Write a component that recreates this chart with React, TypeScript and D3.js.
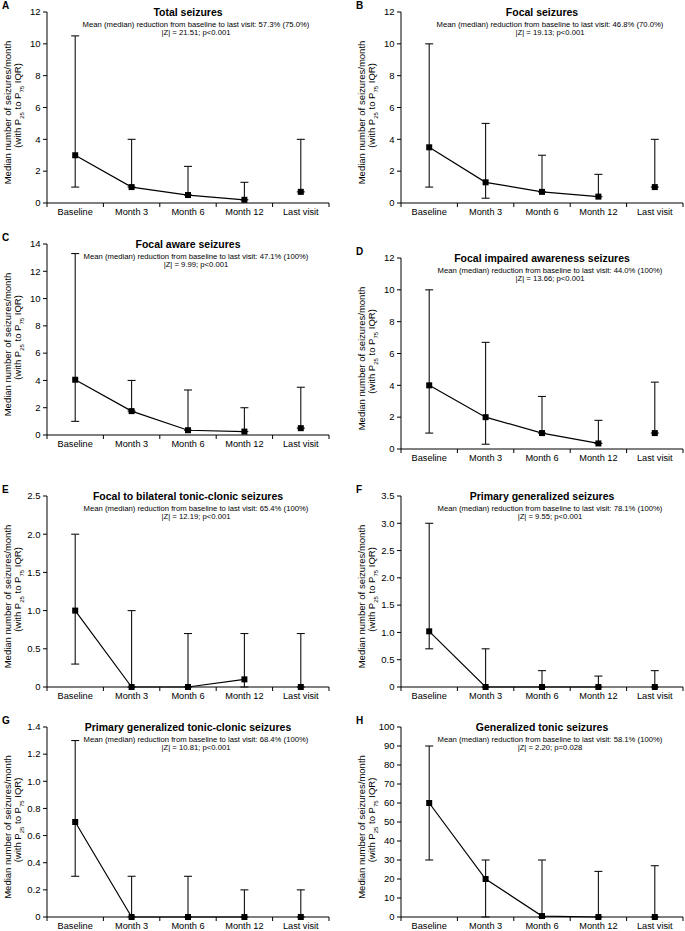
import React from 'react';
import * as d3 from 'd3';

const visits = ['Baseline', 'Month 3', 'Month 6', 'Month 12', 'Last visit'];
const letters = ['A', 'B', 'C', 'D', 'E', 'F', 'G', 'H'];
const titles = [
  'Total seizures',
  'Focal seizures',
  'Focal aware seizures',
  'Focal impaired awareness seizures',
  'Focal to bilateral tonic-clonic seizures',
  'Primary generalized seizures',
  'Primary generalized tonic-clonic seizures',
  'Generalized tonic seizures',
];
const reductions = ['57.3% (75.0%)', '46.8% (70.0%)', '47.1% (100%)', '44.0% (100%)', '65.4% (100%)', '78.1% (100%)', '68.4% (100%)', '58.1% (100%)'];
const stats = [
  '|Z| = 21.51; p<0.001',
  '|Z| = 19.13; p<0.001',
  '|Z| = 9.99; p<0.001',
  '|Z| = 13.66; p<0.001',
  '|Z| = 12.19; p<0.001',
  '|Z| = 9.55; p<0.001',
  '|Z| = 10.81; p<0.001',
  '|Z| = 2.20; p=0.028',
];
const yMax = [12, 12, 14, 12, 2.5, 3.5, 1.4, 100];
const yStep = [2, 2, 2, 2, 0.5, 0.5, 0.2, 10];

// median, P25, P75 per visit
const medians = [
  [3, 1, 0.5, 0.2, 0.7],
  [3.5, 1.3, 0.7, 0.4, 1],
  [4.05, 1.75, 0.35, 0.25, 0.5],
  [4, 2, 1, 0.35, 1],
  [1, 0, 0, 0.1, 0],
  [1.02, 0, 0, 0, 0],
  [0.7, 0, 0, 0, 0],
  [60, 20, 0.5, 0, 0],
];
const p25 = [
  [1, 1, 0.5, 0.2, 0.7],
  [1, 0.3, 0.7, 0.4, 1],
  [1, 1.75, 0.35, 0.25, 0.5],
  [1, 0.3, 1, 0.35, 1],
  [0.3, 0, 0, 0, 0],
  [0.7, 0, 0, 0, 0],
  [0.3, 0, 0, 0, 0],
  [30, 0, 0, 0, 0],
];
const p75 = [
  [10.5, 4, 2.3, 1.3, 4],
  [10, 5, 3, 1.8, 4],
  [13.3, 4, 3.3, 2, 3.5],
  [10, 6.7, 3.3, 1.8, 4.2],
  [2, 1, 0.7, 0.7, 0.7],
  [3, 0.7, 0.3, 0.2, 0.3],
  [1.3, 0.3, 0.3, 0.2, 0.2],
  [90, 30, 30, 24, 27],
];

const colX = [47, 401];
const panelTop = [12, 12, 244, 258, 496, 496, 727, 727];
const plotW = 282;
const plotH = 191;
const font = '"Liberation Sans", Arial, Helvetica, sans-serif';

const Panel = ({ i }: { i: number }) => {
  const x0 = colX[i % 2];
  const top = panelTop[i];
  const h = i >= 6 ? plotH - 1 : plotH;
  const x = d3.scaleBand().domain(visits).range([x0, x0 + plotW]).padding(0);
  const y = d3.scaleLinear().domain([0, yMax[i]]).range([top + h, top]);
  const cx = (v: string) => (x(v) as number) + x.bandwidth() / 2;
  const ticks = d3.range(0, yMax[i] + yStep[i] / 2, yStep[i]);
  const fmt = (v: number) => (v === 0 ? '0' : yStep[i] < 1 ? d3.format('.1f')(v) : String(Math.round(v)));
  const line = d3
    .line<number>()
    .x((_, k) => cx(visits[k]))
    .y((d) => y(d));
  const bottom = top + h;
  const mid = x0 + plotW / 2;
  const boundaries = visits.map((v) => x(v) as number).concat([x0 + plotW]);
  const yMid = top + h / 2;

  return (
    <g fontFamily={font}>
      <text x={x0 - 45} y={top - 3.5} fontSize={10} fontWeight="bold">
        {letters[i]}
      </text>
      <text x={mid} y={top + 4} fontSize={10.5} fontWeight="bold" textAnchor="middle">
        {titles[i]}
      </text>
      <text x={mid + 8} y={top + 14.5} fontSize={7.7} textAnchor="middle">
        {'Mean (median) reduction from baseline to last visit: ' + reductions[i]}
      </text>
      <text x={mid + 8} y={top + 23} fontSize={7.7} textAnchor="middle">
        {stats[i]}
      </text>

      {/* y axis */}
      <line x1={x0} x2={x0} y1={top} y2={bottom} stroke="#000" strokeWidth={1} />
      {ticks.map((t) => (
        <g key={t}>
          <line x1={x0 - 4} x2={x0} y1={y(t)} y2={y(t)} stroke="#000" />
          <text x={x0 - 6.5} y={y(t)} dy="0.35em" fontSize={9.5} textAnchor="end">
            {fmt(t)}
          </text>
        </g>
      ))}
      <g transform={`translate(${x0 - 36},${yMid + 5}) rotate(-90)`}>
        <text fontSize={9.5} textAnchor="middle">Median number of seizures/month</text>
      </g>
      <g transform={`translate(${x0 - 26},${yMid - 2}) rotate(-90)`}>
        <text fontSize={9.5} textAnchor="middle">
          (with P<tspan fontSize={6} dy={2.5}>25</tspan>
          <tspan dy={-2.5}> to P</tspan>
          <tspan fontSize={6} dy={2.5}>75</tspan>
          <tspan dy={-2.5}> IQR)</tspan>
        </text>
      </g>

      {/* x axis */}
      <line x1={x0} x2={x0 + plotW} y1={bottom} y2={bottom} stroke="#000" />
      {boundaries.map((b, k) => (
        <line key={k} x1={b} x2={b} y1={bottom} y2={bottom + 4} stroke="#000" />
      ))}
      {visits.map((v) => (
        <text key={v} x={cx(v)} y={bottom + 11.5} fontSize={9.2} textAnchor="middle">
          {v}
        </text>
      ))}

      {/* error bars */}
      {visits.map((v, k) => (
        <g key={v} stroke="#111" strokeWidth={1.1}>
          <line x1={cx(v)} x2={cx(v)} y1={y(p25[i][k])} y2={y(p75[i][k])} />
          <line x1={cx(v) - 4} x2={cx(v) + 4} y1={y(p75[i][k])} y2={y(p75[i][k])} />
          <line x1={cx(v) - 4} x2={cx(v) + 4} y1={y(p25[i][k])} y2={y(p25[i][k])} />
        </g>
      ))}
      <path d={line(medians[i].slice(0, 4)) as string} fill="none" stroke="#000" strokeWidth={1.2} />
      {visits.map((v, k) => (
        <rect key={v} x={cx(v) - 3} y={y(medians[i][k]) - 3} width={6} height={6} fill="#000" />
      ))}
    </g>
  );
};

export default function App() {
  return (
    <svg
      width={685}
      height={931}
      style={{ position: 'absolute', left: 0, top: 0, background: '#fff' }}
    >
      {letters.map((_, i) => (
        <Panel key={i} i={i} />
      ))}
    </svg>
  );
}
